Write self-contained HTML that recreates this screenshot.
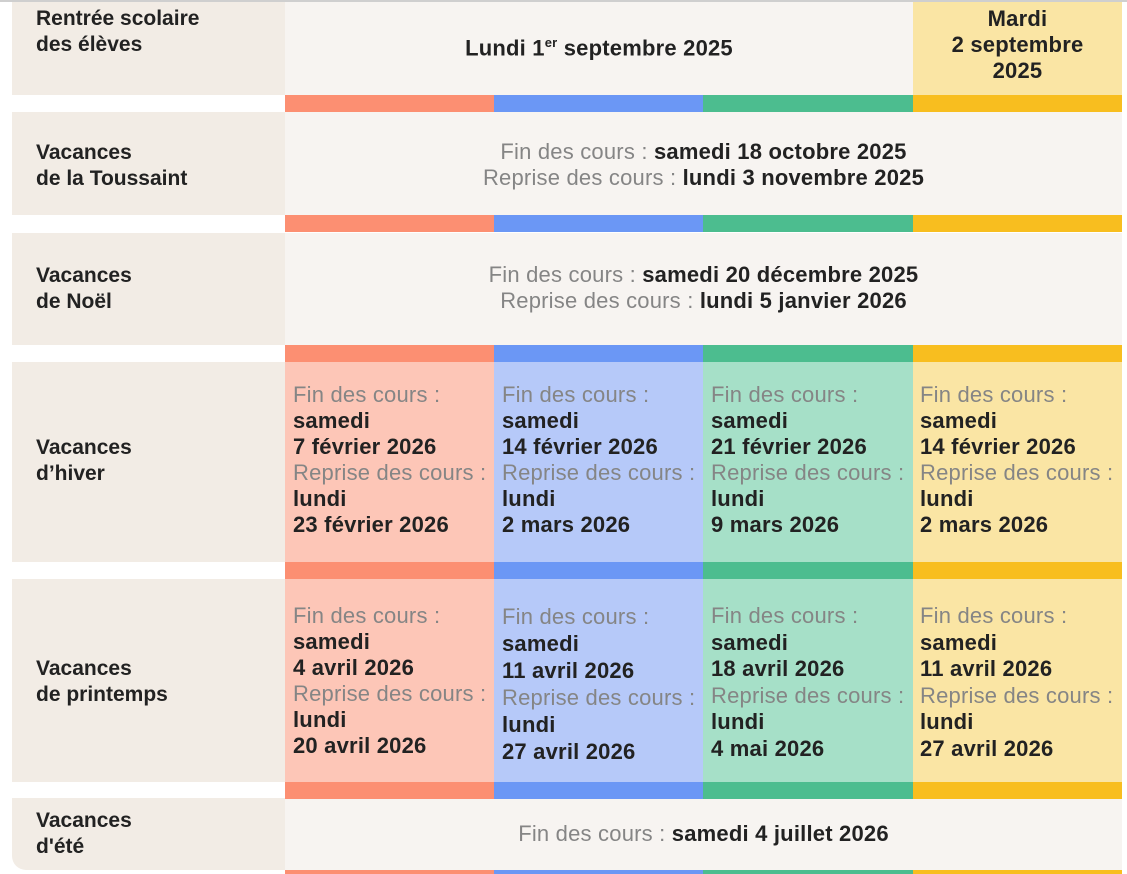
<!DOCTYPE html>
<html><head><meta charset="utf-8"><style>
body{margin:0;width:1127px;height:874px;background:#fff;position:relative;overflow:hidden;font-family:"Liberation Sans",sans-serif}
div{position:absolute;box-sizing:border-box}
.l{background:#f2ece5;left:12px;width:273px}
.c{background:#f7f4f1}
.t{white-space:nowrap;line-height:26px;font-size:22px;letter-spacing:0.2px;color:#222;font-weight:bold}
.g{color:#858585;font-weight:normal}
.lb{font-size:21px;font-weight:bold;color:#222;left:36px;white-space:nowrap;line-height:26px}
.cc{text-align:center;left:285px;width:837px}
</style></head><body>
<div style="left:0;top:0;width:1127px;height:2px;background:#cfcfcf"></div>

<div class="l" style="top:2px;height:93px"></div>
<div class="l" style="top:112px;height:103px"></div>
<div class="l" style="top:233px;height:112px"></div>
<div class="l" style="top:362px;height:200px"></div>
<div class="l" style="top:579px;height:203px"></div>
<div class="l" style="top:798px;height:72px;border-bottom-left-radius:14px"></div>

<div class="c" style="left:285px;top:2px;width:628px;height:93px"></div>
<div style="left:913px;top:2px;width:209px;height:93px;background:#fae5a4"></div>
<div class="c" style="left:285px;top:112px;width:837px;height:103px"></div>
<div class="c" style="left:285px;top:233px;width:837px;height:112px"></div>
<div style="left:285px;top:362px;width:209px;height:200px;background:#fdc6b7"></div>
<div style="left:494px;top:362px;width:209px;height:200px;background:#b6c9f9"></div>
<div style="left:703px;top:362px;width:210px;height:200px;background:#a6e0c8"></div>
<div style="left:913px;top:362px;width:209px;height:200px;background:#fae5a4"></div>
<div style="left:285px;top:579px;width:209px;height:203px;background:#fdc6b7"></div>
<div style="left:494px;top:579px;width:209px;height:203px;background:#b6c9f9"></div>
<div style="left:703px;top:579px;width:210px;height:203px;background:#a6e0c8"></div>
<div style="left:913px;top:579px;width:209px;height:203px;background:#fae5a4"></div>
<div class="c" style="left:285px;top:798px;width:837px;height:72px"></div>

<div style="left:285px;top:95px;width:209px;height:17px;background:#fc8f72;box-shadow:0 120px 0 #fc8f72"></div>
<div style="left:494px;top:95px;width:209px;height:17px;background:#6b97f5;box-shadow:0 120px 0 #6b97f5"></div>
<div style="left:703px;top:95px;width:210px;height:17px;background:#4cbd8f;box-shadow:0 120px 0 #4cbd8f"></div>
<div style="left:913px;top:95px;width:209px;height:17px;background:#f8be1f;box-shadow:0 120px 0 #f8be1f"></div>
<div style="left:285px;top:345px;width:209px;height:17px;background:#fc8f72;box-shadow:0 217px 0 #fc8f72,0 437px 0 #fc8f72,0 525px 0 #fc8f72"></div>
<div style="left:494px;top:345px;width:209px;height:17px;background:#6b97f5;box-shadow:0 217px 0 #6b97f5,0 437px 0 #6b97f5,0 525px 0 #6b97f5"></div>
<div style="left:703px;top:345px;width:210px;height:17px;background:#4cbd8f;box-shadow:0 217px 0 #4cbd8f,0 437px 0 #4cbd8f,0 525px 0 #4cbd8f"></div>
<div style="left:913px;top:345px;width:209px;height:17px;background:#f8be1f;box-shadow:0 217px 0 #f8be1f,0 437px 0 #f8be1f,0 525px 0 #f8be1f"></div>

<div class="lb" style="top:6px">Rentrée scolaire<br>des élèves</div>
<div class="lb" style="top:140px">Vacances<br>de la Toussaint</div>
<div class="lb" style="top:263px">Vacances<br>de Noël</div>
<div class="lb" style="top:435px">Vacances<br>d’hiver</div>
<div class="lb" style="top:656px">Vacances<br>de printemps</div>
<div class="lb" style="top:808px">Vacances<br>d'été</div>

<div class="t" style="left:285px;width:628px;text-align:center;top:30px">Lundi 1<sup style="font-size:13px">er</sup> septembre 2025</div>
<div class="t" style="left:913px;width:209px;text-align:center;top:6px">Mardi</div>
<div class="t" style="left:913px;width:209px;text-align:center;top:32px">2 septembre</div>
<div class="t" style="left:913px;width:209px;text-align:center;top:58px">2025</div>

<div class="t cc" style="top:139px"><span class="g">Fin des cours : </span>samedi 18 octobre 2025</div>
<div class="t cc" style="top:165px"><span class="g">Reprise des cours : </span>lundi 3 novembre 2025</div>
<div class="t cc" style="top:262px"><span class="g">Fin des cours : </span>samedi 20 décembre 2025</div>
<div class="t cc" style="top:288px"><span class="g">Reprise des cours : </span>lundi 5 janvier 2026</div>
<div class="t cc" style="top:821px"><span class="g">Fin des cours : </span>samedi 4 juillet 2026</div>

<div class="t" style="left:293px;top:382px"><span class="g">Fin des cours :</span><br>samedi<br>7 février 2026<br><span class="g">Reprise des cours :</span><br>lundi<br>23 février 2026</div>
<div class="t" style="left:502px;top:382px"><span class="g">Fin des cours :</span><br>samedi<br>14 février 2026<br><span class="g">Reprise des cours :</span><br>lundi<br>2 mars 2026</div>
<div class="t" style="left:711px;top:382px"><span class="g">Fin des cours :</span><br>samedi<br>21 février 2026<br><span class="g">Reprise des cours :</span><br>lundi<br>9 mars 2026</div>
<div class="t" style="left:920px;top:382px"><span class="g">Fin des cours :</span><br>samedi<br>14 février 2026<br><span class="g">Reprise des cours :</span><br>lundi<br>2 mars 2026</div>

<div class="t" style="left:293px;top:603px"><span class="g">Fin des cours :</span><br>samedi<br>4 avril 2026<br><span class="g">Reprise des cours :</span><br>lundi<br>20 avril 2026</div>
<div class="t" style="left:502px;top:603px;line-height:27px"><span class="g">Fin des cours :</span><br>samedi<br>11 avril 2026<br><span class="g">Reprise des cours :</span><br>lundi<br>27 avril 2026</div>
<div class="t" style="left:711px;top:603px;line-height:26.5px"><span class="g">Fin des cours :</span><br>samedi<br>18 avril 2026<br><span class="g">Reprise des cours :</span><br>lundi<br>4 mai 2026</div>
<div class="t" style="left:920px;top:603px;line-height:26.5px"><span class="g">Fin des cours :</span><br>samedi<br>11 avril 2026<br><span class="g">Reprise des cours :</span><br>lundi<br>27 avril 2026</div>
</body></html>
